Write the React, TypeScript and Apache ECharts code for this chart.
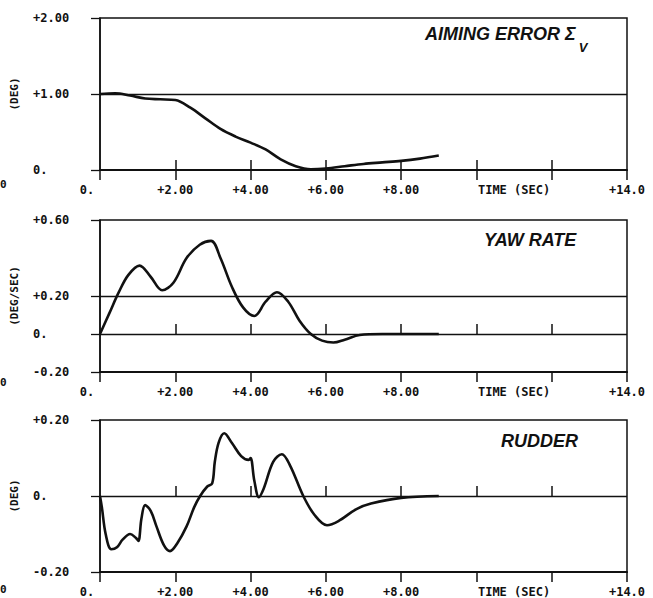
import React, { useEffect, useRef } from "react";
import * as echarts from "echarts";

// ---- axis ticks / labels ----
const xTickValues = [0, 2, 4, 6, 8, 10, 12, 14];
const xLabelValues = [0, 2, 4, 6, 8, 11, 14];
const xLabelTexts = ["0.", "+2.00", "+4.00", "+6.00", "+8.00", "TIME (SEC)", "+14.0"];

const aimTickValues = [0, 1, 2];
const aimTickLabels = ["0.", "+1.00", "+2.00"];
const yawTickValues = [-0.2, 0, 0.2, 0.6];
const yawTickLabels = ["-0.20", "0.", "+0.20", "+0.60"];
const rudTickValues = [-0.2, 0, 0.2];
const rudTickLabels = ["-0.20", "0.", "+0.20"];

// ---- series: aiming error (deg) ----
const aimTime = [0, 0.4, 0.8, 1.2, 1.6, 2.0, 2.4, 2.8, 3.2, 3.6, 4.0, 4.4, 4.8, 5.2, 5.6, 6.0, 6.5, 7.0, 7.5, 8.0, 8.5, 9.0];
const aimValue = [1.0, 1.01, 0.98, 0.94, 0.93, 0.92, 0.82, 0.68, 0.54, 0.44, 0.36, 0.27, 0.14, 0.05, 0.01, 0.02, 0.05, 0.08, 0.1, 0.12, 0.15, 0.19];

// ---- series: yaw rate (deg/sec) ----
const yawTime = [0, 0.25, 0.5, 0.75, 1.05, 1.35, 1.65, 1.95, 2.3, 2.65, 2.95, 3.2, 3.5, 3.8, 4.1, 4.4, 4.7, 5.0, 5.3, 5.6, 5.9, 6.2, 6.5, 6.9, 7.5, 8.0, 9.0];
const yawValue = [0, 0.11, 0.22, 0.31, 0.36, 0.3, 0.23, 0.27, 0.4, 0.47, 0.49, 0.4, 0.25, 0.14, 0.095, 0.17, 0.22, 0.17, 0.07, 0.0, -0.035, -0.045, -0.03, -0.005, 0.0, 0.0, 0.0];

// ---- series: rudder (deg) ----
const rudTime = [0, 0.05, 0.15, 0.3, 0.45, 0.6, 0.8, 0.95, 1.02, 1.1, 1.2, 1.35, 1.5, 1.7, 1.86, 2.05, 2.3, 2.5, 2.66, 2.85, 2.98, 3.05, 3.15, 3.3, 3.5, 3.75, 3.95, 4.0, 4.1, 4.22, 4.35, 4.6, 4.83, 5.05, 5.4, 5.7, 6.03, 6.35, 6.8, 7.2, 8.0, 9.0];
const rudValue = [0, -0.03, -0.1, -0.14, -0.135, -0.115, -0.1, -0.11, -0.118, -0.06, -0.024, -0.04, -0.08, -0.13, -0.145, -0.125, -0.08, -0.03, 0.0, 0.025, 0.033, 0.09, 0.14, 0.165, 0.14, 0.105, 0.095, 0.1, 0.04, -0.003, 0.02, 0.09, 0.11, 0.08, 0.0, -0.05, -0.077, -0.065, -0.035, -0.02, -0.005, 0.0];

const MONO = "DejaVu Sans Mono";
const SANS = "Liberation Sans";

function zip(t: number[], v: number[]) {
  return t.map((x, i) => [x, v[i]]);
}
function lookup(values: number[], texts: string[]) {
  return (val: number) => {
    const i = values.findIndex((x) => Math.abs(x - val) < 1e-9);
    return i < 0 ? "" : texts[i];
  };
}

export default function App() {
  const ref = useRef<HTMLDivElement>(null);
  useEffect(() => {
    if (!ref.current) return;
    const chart = echarts.init(ref.current, null, { renderer: "svg" });

    const panels = [
      { top: 18, min: 0, max: 2, interval: 1, ticks: aimTickValues, labels: aimTickLabels, name: "(DEG)", lines: [1], data: zip(aimTime, aimValue) },
      { top: 220, min: -0.2, max: 0.6, interval: 0.2, ticks: yawTickValues, labels: yawTickLabels, name: "(DEG/SEC)", lines: [0.2, 0], data: zip(yawTime, yawValue) },
      { top: 420, min: -0.2, max: 0.2, interval: 0.2, ticks: rudTickValues, labels: rudTickLabels, name: "(DEG)", lines: [0], data: zip(rudTime, rudValue) },
    ];

    const xFmt = lookup(xLabelValues, xLabelTexts);
    const labelFont = { fontFamily: MONO, fontSize: 12, fontWeight: "bold" as const, color: "#111" };

    const grid: any[] = [];
    const xAxis: any[] = [];
    const yAxis: any[] = [];
    const series: any[] = [];

    panels.forEach((p, k) => {
      grid.push({ left: 100, width: 527, top: p.top, height: 152, show: true, borderColor: "#111", borderWidth: 1.5, backgroundColor: "transparent" });
      xAxis.push({
        type: "value", gridIndex: k, position: "bottom", min: 0, max: 14, interval: 2,
        axisLine: { show: true, onZero: false, lineStyle: { color: "#111", width: 2 } },
        axisTick: { show: true, inside: false, length: 10, customValues: xTickValues, lineStyle: { color: "#111", width: 1.5 } },
        axisLabel: {
          show: true, margin: 14, customValues: xLabelValues, ...labelFont,
          formatter: (v: number) => (Math.abs(v) < 1e-9 ? "{l|0.}" : xFmt(v)),
          rich: { l: { ...labelFont, padding: [0, 26, 0, 0] } },
        },
        splitLine: { show: false },
      });
      xAxis.push({
        type: "value", gridIndex: k, position: "bottom", min: 0, max: 14, interval: 2,
        axisLine: { show: false },
        axisTick: { show: true, inside: true, length: 10, customValues: [2, 4, 6, 8, 10, 12], lineStyle: { color: "#111", width: 1.5 } },
        axisLabel: { show: false },
        splitLine: { show: false },
      });
      yAxis.push({
        type: "value", gridIndex: k, min: p.min, max: p.max, interval: p.interval,
        name: p.name, nameLocation: "middle", nameGap: 80, nameRotate: 90,
        nameTextStyle: { ...labelFont, fontSize: 11 },
        axisLine: { show: true, onZero: false, lineStyle: { color: "#111", width: 1.5 } },
        axisTick: { show: true, length: 9, customValues: p.ticks, lineStyle: { color: "#111", width: 1.3 } },
        axisLabel: { show: true, customValues: p.ticks, align: "left", margin: 67, ...labelFont, formatter: lookup(p.ticks, p.labels) },
        splitLine: { show: false },
      });
      series.push({
        type: "line", xAxisIndex: 2 * k, yAxisIndex: k, data: p.data,
        showSymbol: false, smooth: 0.35, clip: false,
        lineStyle: { color: "#111", width: 2.6 },
        markLine: {
          silent: true, symbol: ["none", "none"], label: { show: false },
          lineStyle: { color: "#111", width: 1.3, type: "solid" },
          data: p.lines.map((y) => ({ yAxis: y })),
        },
      });
    });

    const titleStyle = { fontFamily: SANS, fontSize: 18, fontWeight: "bold" as const, fontStyle: "italic" as const, color: "#111" };

    chart.setOption({
      animation: false,
      backgroundColor: "#fff",
      grid, xAxis, yAxis, series,
      title: [
        {
          left: 425, top: 14, padding: 0,
          text: "{a|AIMING ERROR Σ}{s|V}",
          textStyle: {
            ...titleStyle,
            rich: {
              a: { ...titleStyle, lineHeight: 40 },
              s: { ...titleStyle, fontSize: 13, lineHeight: 10, verticalAlign: "bottom", padding: [0, 0, 0, 3] },
            },
          },
        },
        { left: 484, top: 231, padding: 0, text: "YAW RATE", textStyle: titleStyle },
        { left: 501, top: 432, padding: 0, text: "RUDDER", textStyle: titleStyle },
      ],
      graphic: [
        { type: "text", left: 0, top: 179, style: { text: "0", font: "bold 11px DejaVu Sans Mono", fill: "#111" } },
        { type: "text", left: 0, top: 377, style: { text: "0", font: "bold 11px DejaVu Sans Mono", fill: "#111" } },
        { type: "text", left: 0, top: 584, style: { text: "0", font: "bold 11px DejaVu Sans Mono", fill: "#111" } },
      ],
    });
    return () => chart.dispose();
  }, []);
  return <div ref={ref} style={{ position: "absolute", left: 0, top: 0, width: 653, height: 598 }} />;
}
